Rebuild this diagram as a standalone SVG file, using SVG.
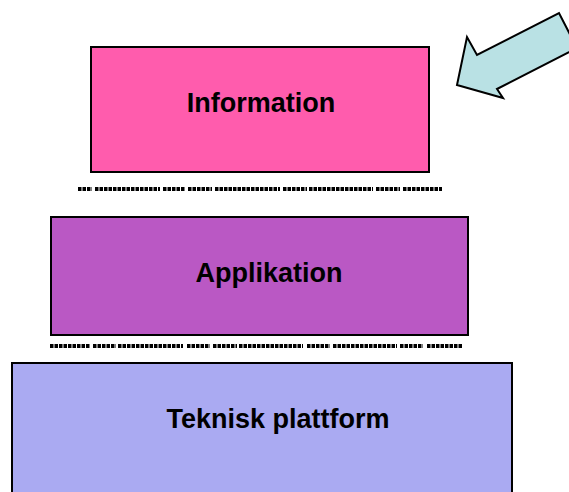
<svg xmlns="http://www.w3.org/2000/svg" width="569" height="492" viewBox="0 0 569 492">
<style>
.box{stroke:#000;stroke-width:2}
.lbl{font-family:"Liberation Sans",Arial,sans-serif;font-weight:bold;font-size:27px;fill:#000}
.dash{fill:none;stroke:#000;stroke-width:4;stroke-dasharray:3.5 1}
</style>
<rect width="569" height="492" fill="#fff"/>
<g id="information">
<rect class="box" x="91" y="47" width="338" height="125" fill="#FF5CAD"/>
<text class="lbl" x="261" y="112" text-anchor="middle">Information</text>
</g>
<g id="applikation">
<rect class="box" x="51" y="217" width="417" height="118" fill="#BA58C4"/>
<text class="lbl" x="269" y="282" text-anchor="middle">Applikation</text>
</g>
<g id="teknisk">
<rect class="box" x="12" y="363" width="500" height="140" fill="#AAAAF2"/>
<text class="lbl" x="278" y="428" text-anchor="middle">Teknisk plattform</text>
</g>
<g id="arrow">
<polygon points="457,85 467,37 477,55 559,13 577,48 497,89 503,98" fill="#B9E1E4" stroke="#000" stroke-width="2" stroke-linejoin="miter"/>
</g>
<g id="connectors">
<path class="dash" d="M78 189H92M95 189H160M163 189H185M188 189H212M215 189H280M283 189H307M309 189H373M376 189H400M403 189H442"/>
<path class="dash" d="M50 346H90M93 346H116M118 346H183M187 346H210M213 346H237M239 346H303M307 346H330M333 346H397M400 346H423M427 346H463"/>
</g>
</svg>
